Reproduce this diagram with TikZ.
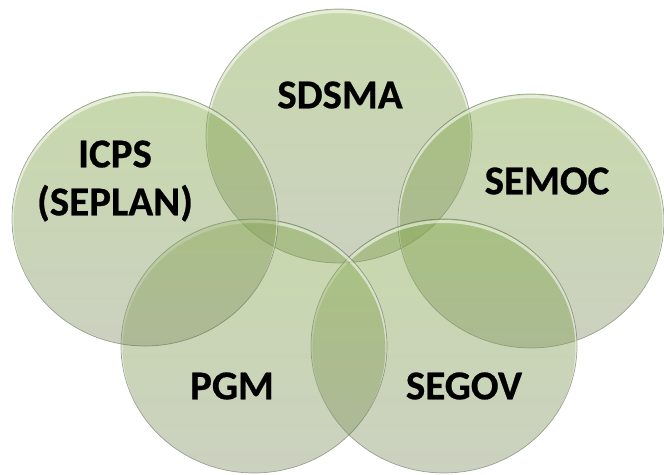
\documentclass[tikz,border=0pt]{standalone}
\usepackage{fontspec}
\setmainfont{Carlito}[BoldFeatures={FakeBold=0.6}]
\definecolor{gtop}{RGB}{128,168,66}
\definecolor{gbot}{RGB}{138,150,112}
\definecolor{edgec}{RGB}{70,80,55}
\tikzset{
  bubble/.style={top color=gtop, bottom color=gbot, fill opacity=0.44},
  rim/.style={draw=edgec, draw opacity=0.45, line width=0.7pt},
  shine/.style={draw=white, draw opacity=0.55, line width=3pt},
  lbl/.style={font=\fontsize{41}{48}\selectfont\bfseries, text=black, align=center, inner sep=0pt}
}
\newcommand{\vennbubble}[2]{%
  \shade[bubble] (#1,#2) ellipse [x radius=133pt, y radius=127pt];
  \begin{scope}
    \clip (#1,#2) ellipse [x radius=133pt, y radius=127pt];
    \draw[shine] (#1,#2+2.5) ellipse [x radius=133pt, y radius=127pt];
  \end{scope}
  \draw[rim] (#1,#2) ellipse [x radius=133pt, y radius=127pt];
}
\begin{document}
\begin{tikzpicture}[x=1pt,y=-1pt]
\useasboundingbox (0,0) rectangle (664,474);
\vennbubble{339}{136}
\vennbubble{531}{221}
\vennbubble{444}{346}
\vennbubble{254}{346}
\vennbubble{145}{219}
\node[lbl] (sdsma) at (340,95) {SDSMA};
\node[lbl] (icps) at (115,181) {ICPS\\(SEPLAN)};
\node[lbl] (semoc) at (547,181) {SEMOC};
\node[lbl] (pgm) at (232,386) {PGM};
\node[lbl] (segov) at (464,386) {SEGOV};
\end{tikzpicture}
\end{document}
